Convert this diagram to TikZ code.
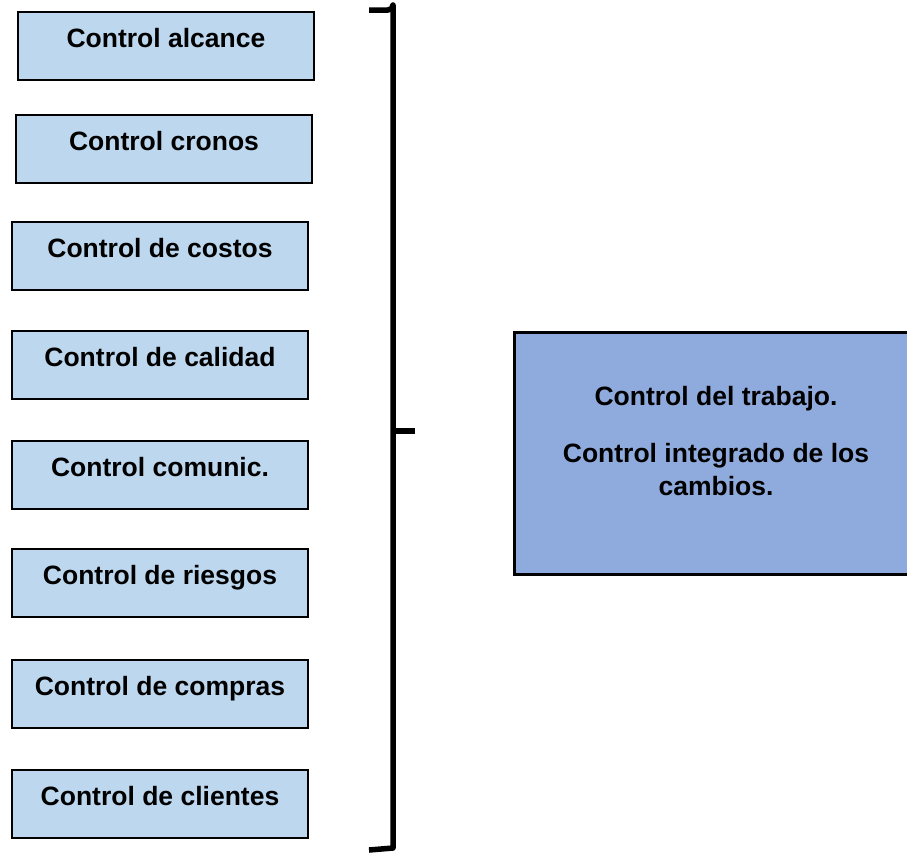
\documentclass[tikz,border=0pt]{standalone}
\usepackage{fontspec}
\setmainfont{Liberation Sans}
\definecolor{lightbox}{HTML}{BDD7EE}
\definecolor{bigbox}{HTML}{8FAADC}
\begin{document}
\begin{tikzpicture}[x=1pt,y=-1pt,
  smallbox/.style={draw=black, line width=2pt, fill=lightbox, rectangle, inner sep=0pt, minimum width=296pt, minimum height=68pt, anchor=north west},
  boxtext/.style={font=\fontsize{26.5}{32}\selectfont\bfseries, anchor=base, inner sep=0pt},
  brace/.style={line width=5.5pt, line join=round}]
\useasboundingbox (0,0) rectangle (907,852);
\node[smallbox] (b1) at (17,11) {};
\node[smallbox] (b2) at (15,114) {};
\node[smallbox] (b3) at (11,221) {};
\node[smallbox] (b4) at (11,330) {};
\node[smallbox] (b5) at (11,440) {};
\node[smallbox] (b6) at (11,548) {};
\node[smallbox] (b7) at (11,659) {};
\node[smallbox] (b8) at (11,769) {};
\node[boxtext] (t1) at ([yshift=-1pt]b1.center) {Control alcance};
\node[boxtext] (t2) at ([yshift=-1pt]b2.center) {Control cronos};
\node[boxtext] (t3) at ([yshift=-1pt]b3.center) {Control de costos};
\node[boxtext] (t4) at ([yshift=-1pt]b4.center) {Control de calidad};
\node[boxtext] (t5) at ([yshift=-1pt]b5.center) {Control comunic.};
\node[boxtext] (t6) at ([yshift=-1pt]b6.center) {Control de riesgos};
\node[boxtext] (t7) at ([yshift=-1pt]b7.center) {Control de compras};
\node[boxtext] (t8) at ([yshift=-1pt]b8.center) {Control de clientes};
\begin{scope}
\clip (0,0) rectangle (907,852);
\node[draw=black, line width=2.5pt, fill=bigbox, rectangle, inner sep=0pt, minimum width=400pt, minimum height=242pt, anchor=north west] (big) at (513,331) {};
\end{scope}
\node[boxtext] (bt1) at (716,405) {Control del trabajo.};
\node[boxtext] (bt2) at (716,462) {Control integrado de los};
\node[boxtext] (bt3) at (716,495) {cambios.};
\coordinate (top) at (369,10);
\coordinate (tip) at (415,431);
\coordinate (bot) at (369,850);
\draw[brace] (top) -- (388,10) arc[start angle=90, end angle=0, radius=5] -- (393,848) -- (bot);
\draw[line width=5.5pt] (391,431) -- (tip);
\end{tikzpicture}
\end{document}
